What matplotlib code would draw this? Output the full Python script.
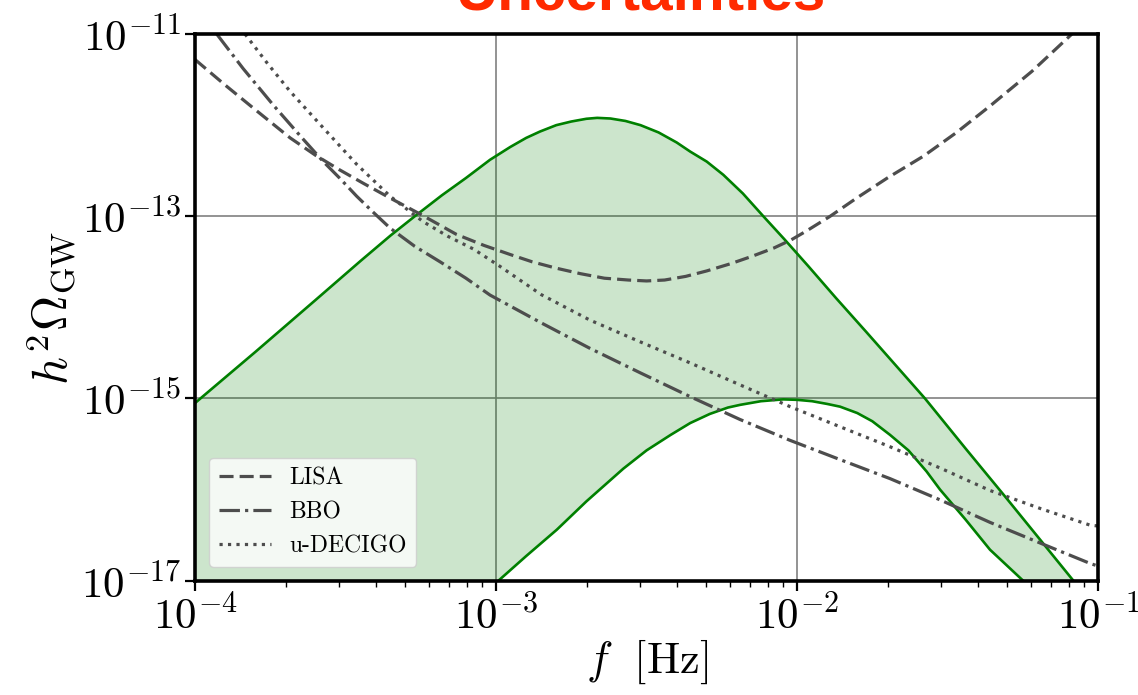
import numpy as np
import matplotlib
matplotlib.use('Agg')
from matplotlib import pyplot as plt
from matplotlib.ticker import NullLocator, LogLocator

# values, as log10(f [Hz]) and log10(h^2 Omega_GW)
band_top_logf = [-4.0, -3.8, -3.6, -3.45, -3.35, -3.27, -3.18, -3.1, -3.02, -2.953, -2.9, -2.854,
                 -2.8, -2.75, -2.7, -2.664, -2.62, -2.57, -2.52, -2.46, -2.40, -2.355, -2.30,
                 -2.245, -2.18, -2.112, -2.04, -1.962, -1.87, -1.77, -1.575, -1.44, -1.303, -1.19, -1.082]
band_top_logh = [-15.05, -14.49, -13.92, -13.49, -13.21, -13.0, -12.77, -12.58, -12.38, -12.24, -12.14, -12.07,
                 -12.0, -11.96, -11.93, -11.92, -11.927, -11.954, -12.0, -12.08, -12.19, -12.29, -12.40,
                 -12.545, -12.75, -13.0, -13.26, -13.55, -13.9, -14.27, -15.0, -15.55, -16.10, -16.56, -17.0]

band_bot_logf = [-2.992, -2.9, -2.798, -2.7, -2.577, -2.5, -2.42, -2.355, -2.29, -2.23, -2.189, -2.12,
                 -2.046, -2.0, -1.95, -1.9, -1.857, -1.80, -1.75, -1.691, -1.63, -1.57, -1.525,
                 -1.44, -1.359, -1.249]
band_bot_logh = [-17.0, -16.73, -16.44, -16.13, -15.77, -15.57, -15.40, -15.27, -15.17, -15.10, -15.07, -15.03,
                 -15.01, -15.015, -15.03, -15.06, -15.09, -15.16, -15.25, -15.40, -15.57, -15.80, -16.0,
                 -16.33, -16.66, -17.0]

lisa_logf = [-4.0, -3.9, -3.8, -3.684, -3.6, -3.52, -3.44, -3.352, -3.25, -3.131, -3.04, -2.953,
             -2.88, -2.80, -2.72, -2.64, -2.56, -2.50, -2.44, -2.37, -2.30, -2.22, -2.15, -2.078,
             -2.02, -1.968, -1.89, -1.802, -1.70, -1.580, -1.47, -1.359, -1.22, -1.087]
lisa_logh = [-11.28, -11.56, -11.83, -12.14, -12.33, -12.49, -12.64, -12.80, -12.98, -13.20, -13.32, -13.42,
             -13.50, -13.57, -13.63, -13.68, -13.70, -13.71, -13.70, -13.66, -13.60, -13.52, -13.44, -13.35,
             -13.26, -13.16, -13.0, -12.80, -12.58, -12.34, -12.08, -11.79, -11.41, -11.0]

bbo_logf = [-3.928, -3.84, -3.74, -3.65, -3.574, -3.52, -3.463, -3.41, -3.352, -3.27, -3.186, -3.10,
            -3.02, -2.85, -2.688, -2.52, -2.355, -2.19, -2.023, -1.85, -1.691, -1.52, -1.359,
            -1.19, -1.027, -1.0]
bbo_logh = [-11.0, -11.38, -11.78, -12.12, -12.40, -12.58, -12.78, -12.95, -13.13, -13.33, -13.50, -13.68,
            -13.865, -14.17, -14.45, -14.72, -14.98, -15.23, -15.46, -15.68, -15.88, -16.12, -16.36,
            -16.59, -16.81, -16.84]

decigo_logf = [-3.834, -3.76, -3.684, -3.574, -3.463, -3.352, -3.242, -3.16, -3.075, -2.987, -2.85, -2.688,
               -2.52, -2.355, -2.19, -2.023, -1.85, -1.691, -1.52, -1.359, -1.19, -1.027, -1.0]
decigo_logh = [-11.0, -11.32, -11.63, -12.03, -12.43, -12.78, -13.06, -13.22, -13.36, -13.55, -13.86, -14.14,
               -14.38, -14.61, -14.85, -15.09, -15.32, -15.53, -15.77, -16.01, -16.21, -16.39, -16.40]

labels = ['LISA', 'BBO', 'u-DECIGO']

plt.rcParams['mathtext.fontset'] = 'cm'
plt.rcParams['font.family'] = 'serif'
plt.rcParams['font.serif'] = ['cmr10', 'DejaVu Serif']
plt.rcParams['axes.formatter.use_mathtext'] = True

fig = plt.figure(figsize=(11.38, 6.95), dpi=100)
ax = fig.add_axes([0.1714, 0.1645, 0.7935, 0.7865])

p = lambda v: 10.0 ** np.asarray(v)

# green band
poly_f = np.concatenate([p(band_top_logf), p(band_bot_logf)[::-1], [1e-4]])
poly_h = np.concatenate([p(band_top_logh), p(band_bot_logh)[::-1], [1e-17]])
ax.fill(poly_f, poly_h, color='green', alpha=0.2, lw=0)
ax.plot(p(band_top_logf), p(band_top_logh), color='green', lw=1.9)
ax.plot(p(band_bot_logf), p(band_bot_logh), color='green', lw=1.9)

gray = '#4d4d4d'
ax.plot(p(lisa_logf), p(lisa_logh), color=gray, lw=2.3, dashes=(4.4, 1.9), label=labels[0])
ax.plot(p(bbo_logf), p(bbo_logh), color=gray, lw=2.3, ls='-.', label=labels[1])
ax.plot(p(decigo_logf), p(decigo_logh), color=gray, lw=2.3, ls=':', label=labels[2])

ax.set_xscale('log')
ax.set_yscale('log')
ax.set_xlim(1e-4, 1e-1)
ax.set_ylim(1e-17, 1e-11)
ax.set_yticks([1e-17, 1e-15, 1e-13, 1e-11])
ax.yaxis.set_minor_locator(NullLocator())
ax.xaxis.set_minor_locator(LogLocator(base=10, subs=np.arange(2, 10)))
ax.grid(True, which='major', color='gray', lw=1.2)
ax.set_axisbelow(True)

for s in ax.spines.values():
    s.set_linewidth(2.6)
ax.tick_params(which='major', length=7, width=1.6, labelsize=31, pad=3)
ax.tick_params(which='minor', length=4, width=1.0)

ax.set_xlabel(r'$f\ \ [\mathrm{Hz}]$', fontsize=32, labelpad=0)
ax.set_ylabel(r'$h^2\Omega_{\rm GW}$', fontsize=35, labelpad=2)

ax.legend(loc='lower left', fontsize=17, handlelength=2.2, borderaxespad=0.6)

fig.text(0.563, 1 - 9 / 695, 'Uncertainties', color='#ff2a00', fontsize=42,
         fontweight='bold', family='Liberation Sans', ha='center', va='baseline')

fig.savefig('out.png', dpi=100)
